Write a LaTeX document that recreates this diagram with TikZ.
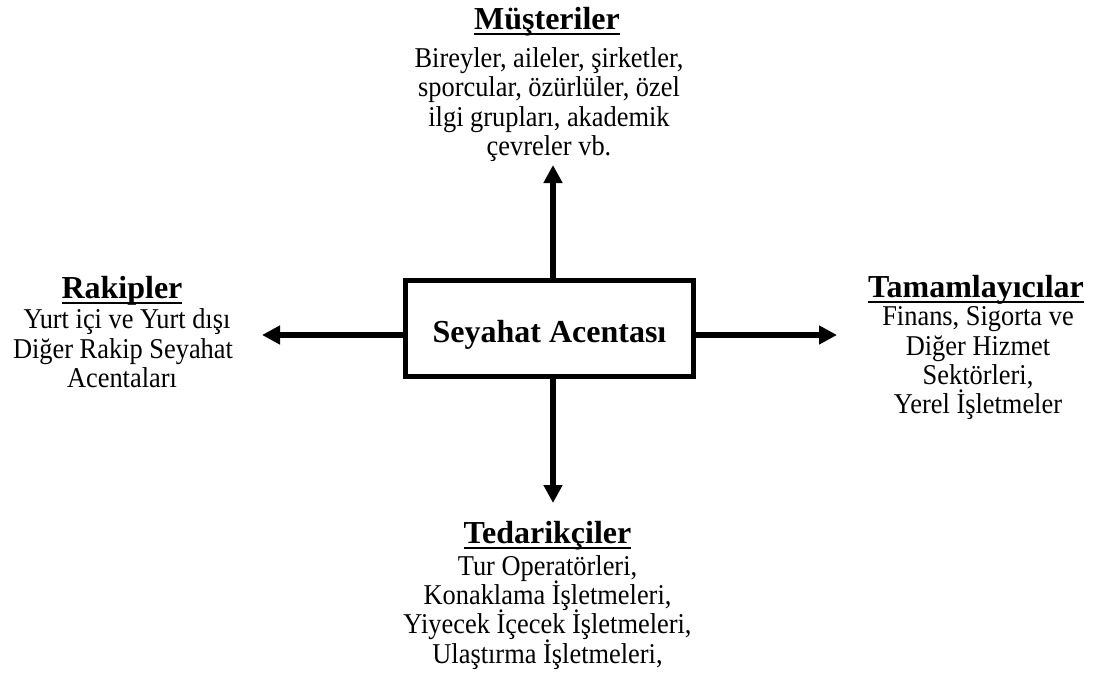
\documentclass[tikz,border=0pt]{standalone}
\usepackage{fontspec}
\setmainfont{Liberation Serif}
\newfontfamily\bodyfont{Liberation Serif}[FakeStretch=0.92]
\usetikzlibrary{arrows.meta}

\begin{document}
\begin{tikzpicture}[x=1pt, y=-1pt,
  every node/.style={inner sep=0pt, outer sep=0pt},
  body/.style={anchor=base, font=\bodyfont\fontsize{28.7}{30}\selectfont},
  head/.style={anchor=base, font=\bfseries\fontsize{32}{34}\selectfont},
  uline/.style={line width=2.4pt},
  arr/.style={line width=6pt, -{Triangle[length=18pt, width=18pt]}},
  centerbox/.style={draw, line width=5pt, minimum width=288pt, minimum height=96pt,
    text height=34pt, text depth=5.6pt, font=\bfseries\fontsize{32}{34}\selectfont}]

\useasboundingbox (0,0) rectangle (1099,675);

% central box
\node[centerbox] (box) at (549.5,328.5) {Seyahat Acentası};

% arrow end points
\coordinate (tipN) at (553,165);
\coordinate (tipS) at (553,503);
\coordinate (tipW) at (262,335);
\coordinate (tipE) at (837,335);

\draw[arr] (box.north -| tipN) -- (tipN);
\draw[arr] (box.south -| tipS) -- (tipS);
\draw[arr] (box.west |- tipW) -- (tipW);
\draw[arr] (box.east |- tipE) -- (tipE);

% customers (top)
\node[head] (hN) at (547,29) {Müşteriler};
\draw[uline] ([yshift=-5pt]hN.base west) -- ([yshift=-5pt]hN.base east);
\node[body] (n1) at (549,67) {Bireyler, aileler, şirketler,};
\node[body] (n2) at (549,96.5) {sporcular, özürlüler, özel};
\node[body] (n3) at (549,126) {ilgi grupları, akademik};
\node[body] (n4) at (549,155.5) {çevreler vb.};

% competitors (left)
\node[head] (hW) at (122,298) {Rakipler};
\draw[uline] ([yshift=-5pt]hW.base west) -- ([yshift=-5pt]hW.base east);
\node[body] (w1) at (127,328.5) {Yurt içi ve Yurt dışı};
\node[body] (w2) at (123,358) {Diğer Rakip Seyahat};
\node[body] (w3) at (122,387.5) {Acentaları};

% complementors (right)
\node[head] (hE) at (976,297) {Tamamlayıcılar};
\draw[uline] ([yshift=-5pt]hE.base west) -- ([yshift=-5pt]hE.base east);
\node[body] (e1) at (978,325.5) {Finans, Sigorta ve};
\node[body] (e2) at (978,355) {Diğer Hizmet};
\node[body] (e3) at (978,384) {Sektörleri,};
\node[body] (e4) at (978,413) {Yerel İşletmeler};

% suppliers (bottom)
\node[head] (hS) at (547.5,543) {Tedarikçiler};
\draw[uline] ([yshift=-5pt]hS.base west) -- ([yshift=-5pt]hS.base east);
\node[body] (s1) at (547.5,575) {Tur Operatörleri,};
\node[body] (s2) at (547.5,604) {Konaklama İşletmeleri,};
\node[body] (s3) at (547.5,633.5) {Yiyecek İçecek İşletmeleri,};
\node[body] (s4) at (547.5,663) {Ulaştırma İşletmeleri,};

\end{tikzpicture}
\end{document}
